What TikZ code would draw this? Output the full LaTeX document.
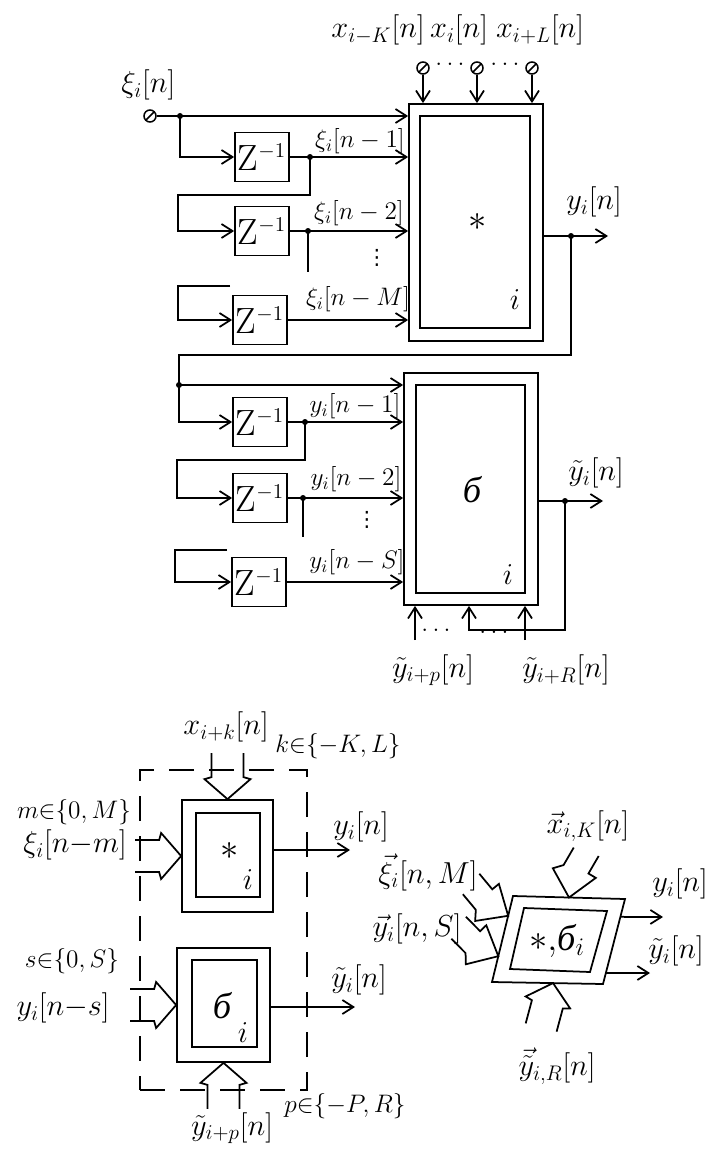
\documentclass[tikz,border=0pt]{standalone}
\usepackage{amsmath}
\usepackage{fontspec}
\newfontfamily\cyrfont{Liberation Serif}
\newfontfamily\symfont{DejaVu Sans}
\usetikzlibrary{arrows.meta, calc}

\begin{document}
\begin{tikzpicture}[x=0.2mm,y=-0.2mm,line width=0.35mm,zbox/.style={draw,minimum width=10.8mm,minimum height=9.8mm,inner sep=0pt,font=\huge},outerbox/.style={draw,inner sep=0pt},arr/.style={-{Straight Barb[length=2.2mm,width=2.8mm]}},lbl/.style={font=\LARGE,inner sep=0pt},slbl/.style={font=\Large,inner sep=0pt},vdot/.style={font=\large\symfont,inner sep=0pt},big/.style={font=\huge,inner sep=1pt},term/.style={circle,draw,inner sep=0pt,minimum size=2.4mm,line width=0.3mm,path picture={\draw (path picture bounding box.south west) -- (path picture bounding box.north east);}},dot/.style={circle,fill,inner sep=0pt,minimum size=1.2mm},hollow/.pic={\draw (-46,-16) -- (-22,-16) -- (-20,-23) -- (0,0) -- (-20,23) -- (-22,16) -- (-46,16);},zhollow/.pic={\draw (-46,-22) -- (-27,-15) -- (-24,-23) -- (0,0) -- (-26,21) -- (-31,11) -- (-50,4);}]
\useasboundingbox (0,0) rectangle (720,1162);
\node[outerbox,minimum width=26.8mm,minimum height=47.4mm] (conv) at (476,222.5) {};
\node[outerbox,minimum width=22mm,minimum height=42.4mm] (convin) at (475,222) {};
\node[big] (convst) at (478,222) {$\ast$};
\node[lbl] (convi) at (515,300) {$i$};
\node[term] (t1) at (423,68) {};
\node[term] (t2) at (477,68) {};
\node[term] (t3) at (532,68) {};
\node[lbl] (t1l) at (378,30) {$x_{i-K}[n]$};
\node[lbl] (t2l) at (459,30) {$x_{i}[n]$};
\node[lbl] (t3l) at (540,30) {$x_{i+L}[n]$};
\node[slbl] (td1) at (450,64) {$\ldots$};
\node[slbl] (td2) at (505,64) {$\ldots$};
\draw[arr] (t1) -- (t1 |- conv.north);
\draw[arr] (t2) -- (t2 |- conv.north);
\draw[arr] (t3) -- (t3 |- conv.north);
\node[term] (xin) at (150,116) {};
\node[lbl,anchor=south east] (xinl) at (176,101) {$\xi_i[n]$};
\node[zbox] (z1) at (262,157) {$\mathrm{Z}^{\scriptscriptstyle -1}$};
\node[zbox] (z2) at (262,231) {$\mathrm{Z}^{\scriptscriptstyle -1}$};
\node[zbox] (z3) at (260,320) {$\mathrm{Z}^{\scriptscriptstyle -1}$};
\node[zbox] (z4) at (260,422) {$\mathrm{Z}^{\scriptscriptstyle -1}$};
\node[zbox] (z5) at (260,498) {$\mathrm{Z}^{\scriptscriptstyle -1}$};
\node[zbox] (z6) at (259,582) {$\mathrm{Z}^{\scriptscriptstyle -1}$};
\coordinate (j1) at (180,116);
\coordinate (j2) at (310,157);
\coordinate (b2) at (178,195);
\coordinate (j3) at (308,231);
\coordinate (s3) at (308,272);
\coordinate (s4) at (230,286);
\coordinate (b4) at (178,286);
\node[dot] (d1) at (j1) {};
\node[dot] (d2) at (j2) {};
\node[dot] (d3) at (j3) {};
\draw[arr] (xin) -- (xin -| conv.west);
\draw[arr] (j1) |- (z1.west);
\draw[arr] (z1.east) -- (z1.east -| conv.west);
\draw[arr] (j2) |- (b2) |- (z2.west);
\draw[arr] (z2.east) -- (z2.east -| conv.west);
\draw (j3) -- (s3);
\draw[arr] (s4) -- (b4) |- (z3.west);
\draw[arr] (z3.east) -- (z3.east -| conv.west);
\node[slbl] (x1l) at (360,141) {$\xi_i[n-1]$};
\node[slbl] (x2l) at (359,213) {$\xi_i[n-2]$};
\node[slbl] (x3l) at (358,299) {$\xi_i[n-M]$};
\node[vdot] (vd1) at (377,258) {⋮};
\coordinate (yo) at (608,236);
\coordinate (j4) at (571,236);
\coordinate (fb1) at (179,355);
\coordinate (j5) at (179,385);
\node[dot] (d4) at (j4) {};
\node[dot] (d5) at (j5) {};
\draw[arr] (yo -| conv.east) -- (yo);
\node[lbl] (yol) at (594,202) {$y_i[n]$};
\draw (j4) |- (fb1) -- (j5);
\node[outerbox,minimum width=26.8mm,minimum height=46.4mm] (sig) at (471,489) {};
\node[outerbox,minimum width=21.8mm,minimum height=41.6mm] (sigin) at (470.5,489) {};
\node[big] (sigs) at (472,490) {\cyrfont\itshape б};
\node[lbl] (sigi) at (508,575) {$i$};
\draw[arr] (j5) -- (j5 -| sig.west);
\draw[arr] (j5) |- (z4.west);
\coordinate (j6) at (305,422);
\coordinate (b6) at (177,460);
\coordinate (j7) at (303,498);
\coordinate (s7) at (303,537);
\coordinate (s8) at (227,550);
\coordinate (b8) at (175,550);
\node[dot] (d6) at (j6) {};
\node[dot] (d7) at (j7) {};
\draw[arr] (z4.east) -- (z4.east -| sig.west);
\draw[arr] (j6) |- (b6) |- (z5.west);
\draw[arr] (z5.east) -- (z5.east -| sig.west);
\draw (j7) -- (s7);
\draw[arr] (s8) -- (b8) |- (z6.west);
\draw[arr] (z6.east) -- (z6.east -| sig.west);
\node[slbl] (y1l) at (355,406) {$y_i[n-1]$};
\node[slbl] (y2l) at (356,479) {$y_i[n-2]$};
\node[slbl] (y3l) at (357,562) {$y_i[n-S]$};
\node[vdot] (vd2) at (367,520) {⋮};
\coordinate (yt) at (603,501);
\coordinate (j8) at (565,501);
\coordinate (fb2) at (469,630);
\coordinate (p1) at (415,640);
\coordinate (p2) at (525,640);
\node[dot] (d8) at (j8) {};
\draw[arr] (yt -| sig.east) -- (yt);
\node[lbl] (ytl) at (596,473) {$\tilde y_i[n]$};
\draw[arr] (j8) |- (fb2) -- (fb2 |- sig.south);
\draw[arr] (p1) -- (p1 |- sig.south);
\draw[arr] (p2) -- (p2 |- sig.south);
\node[slbl] (pd1) at (436,630) {$\ldots$};
\node[slbl] (pd2) at (494,632) {$\ldots$};
\node[lbl] (p1l) at (433,670) {$\tilde y_{i+p}[n]$};
\node[lbl] (p2l) at (566,670) {$\tilde y_{i+R}[n]$};
\node[draw,dash pattern=on 5mm off 3mm,line width=0.3mm,minimum width=33.4mm,minimum height=64mm] (grp) at (223.5,930) {};
\node[outerbox,fill=white,minimum width=18.2mm,minimum height=22.4mm] (cb) at (227.5,856) {};
\node[outerbox,minimum width=12.8mm,minimum height=16.8mm] (cbin) at (228,855) {};
\node[big] (cbs) at (230,851) {$\ast$};
\node[lbl] (cbi) at (248,880) {$i$};
\pic[rotate=-90] at (cb.north) {hollow};
\pic at (cb.west) {hollow};
\coordinate (cbo) at (350,850);
\draw[arr] (cbo -| cb.east) -- (cbo);
\node[lbl] (cbtl) at (226,727) {$x_{i+k}[n]$};
\node[slbl] (cbkl) at (338,746) {$k{\in}\{{-}K,L\}$};
\node[slbl] (cbml) at (74,812) {$m{\in}\{0,M\}$};
\node[lbl] (cbxl) at (75,845) {$\xi_i[n{-}m]$};
\node[lbl] (cbol) at (361,827) {$y_i[n]$};
\node[outerbox,fill=white,minimum width=18.6mm,minimum height=22.8mm] (sb) at (223.5,1005) {};
\node[outerbox,minimum width=13mm,minimum height=17.4mm] (sbin) at (224.5,1003.5) {};
\node[big] (sbs) at (222,1006) {\cyrfont\itshape б};
\node[lbl] (sbi) at (243,1033) {$i$};
\pic at (sb.west) {hollow};
\pic[rotate=90] at (sb.south) {hollow};
\coordinate (sbo) at (355,1007);
\draw[arr] (sbo -| sb.east) -- (sbo);
\node[slbl] (sbsl) at (72,961) {$s{\in}\{0,S\}$};
\node[lbl] (sbyl) at (63,1008) {$y_i[n{-}s]$};
\node[lbl] (sbol) at (359,980) {$\tilde y_i[n]$};
\node[lbl] (sbpl) at (232,1128) {$\tilde y_{i+p}[n]$};
\node[slbl] (sbrl) at (345,1106) {$p{\in}\{{-}P,R\}$};
\coordinate (pa) at (492,982);
\coordinate (pb) at (603,984);
\coordinate (pc) at (625,899);
\coordinate (pd) at (513,896);
\coordinate (qa) at (510,969);
\coordinate (qb) at (590,972);
\coordinate (qc) at (607,911);
\coordinate (qd) at (524,908);
\draw (pa) -- (pb) -- (pc) -- (pd) -- cycle;
\draw (qa) -- (qb) -- (qc) -- (qd) -- cycle;
\node[big] (pt) at (557,941) {$\ast,${\cyrfont\itshape б}$_i$};
\coordinate (po1) at (663,917);
\coordinate (po2) at (650,973);
\draw[arr] ($(pc)!0.21!(pb)$) -- (po1);
\draw[arr] ($(pc)!0.87!(pb)$) -- (po2);
\pic[rotate=-100] at ($(pd)!0.5!(pc)$) {zhollow};
\pic[rotate=-30] at ($(pd)!0.23!(pa)$) {zhollow};
\pic[rotate=-25] at ($(pd)!0.70!(pa)$) {zhollow};
\pic[rotate=75] at ($(pa)!0.55!(pb)$) {hollow};
\node[lbl] (pxl) at (588,826) {$\vec{x}_{i,K}[n]$};
\node[lbl] (pml) at (428,872) {$\vec{\xi}_i[n,M]$};
\node[lbl] (psl) at (417,929) {$\vec{y}_i[n,S]$};
\node[lbl] (po1l) at (680,884) {$y_i[n]$};
\node[lbl] (po2l) at (676,951) {$\tilde y_i[n]$};
\node[lbl] (prl) at (557,1066) {$\vec{\tilde y}_{i,R}[n]$};
\end{tikzpicture}
\end{document}
